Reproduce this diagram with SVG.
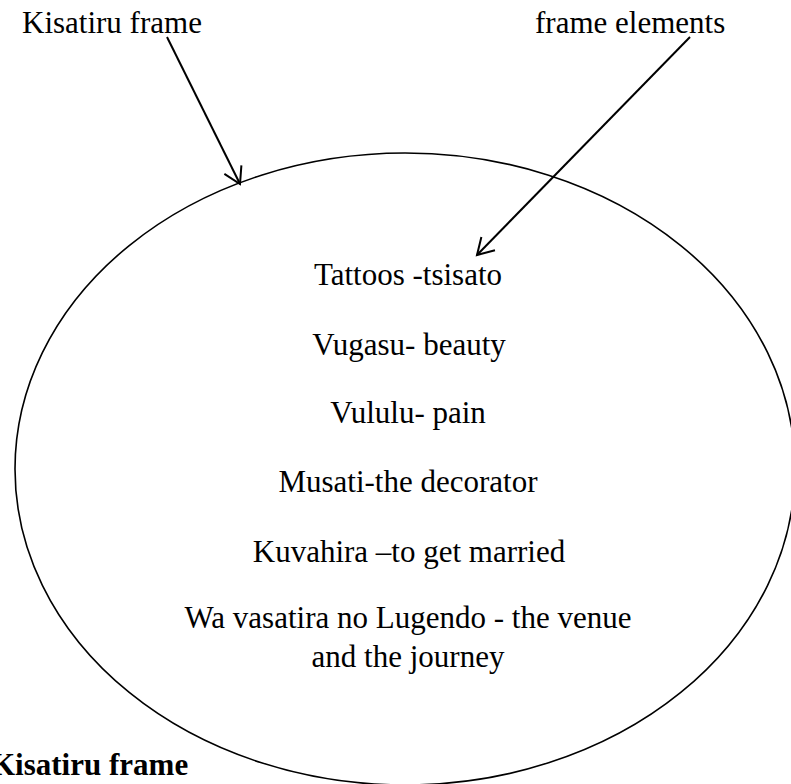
<svg xmlns="http://www.w3.org/2000/svg" width="791" height="784" viewBox="0 0 791 784">
  <defs>
    <style>
      .lbl { font-family: "Liberation Serif", "Times New Roman", serif; font-size: 31px; fill: #000; }
      .mid { text-anchor: middle; }
      .bold { font-weight: bold; }
      .frame { fill: none; stroke: #000; stroke-width: 1.6; }
      .conn { fill: none; stroke: #000; stroke-width: 2; }
    </style>
    <marker id="openArrow" markerUnits="userSpaceOnUse" markerWidth="24" markerHeight="24" viewBox="-20 -12 24 24" refX="0" refY="0" orient="auto">
      <path d="M -16 -9.5 L 0 0 L -16 9.5" fill="none" stroke="#000" stroke-width="2"/>
    </marker>
  </defs>

  <rect width="791" height="784" fill="#fff"/>

  <!-- frame ellipse -->
  <g id="frame">
    <ellipse class="frame" cx="405" cy="469" rx="390" ry="316"/>
  </g>

  <!-- top labels -->
  <g id="label-frame">
    <text class="lbl" x="22" y="33">Kisatiru frame</text>
  </g>
  <g id="label-elements">
    <text class="lbl" x="535" y="33">frame elements</text>
  </g>

  <!-- element list inside the frame -->
  <g id="elements">
    <text class="lbl mid" x="408" y="285">Tattoos -tsisato</text>
    <text class="lbl mid" x="409" y="355">Vugasu- beauty</text>
    <text class="lbl mid" x="408" y="423">Vululu- pain</text>
    <text class="lbl mid" x="408" y="492">Musati-the decorator</text>
    <text class="lbl mid" x="409" y="562">Kuvahira –to get married</text>
    <text class="lbl mid" x="408" y="628">Wa vasatira no Lugendo - the venue</text>
    <text class="lbl mid" x="408" y="667">and the journey</text>
  </g>

  <!-- caption -->
  <g id="caption">
    <text class="lbl bold" x="-9" y="775">Kisatiru frame</text>
  </g>

  <!-- connectors -->
  <g id="connectors">
    <line class="conn" x1="167" y1="37" x2="240" y2="184" marker-end="url(#openArrow)"/>
    <line class="conn" x1="690" y1="37" x2="477" y2="255" marker-end="url(#openArrow)"/>
  </g>
</svg>
